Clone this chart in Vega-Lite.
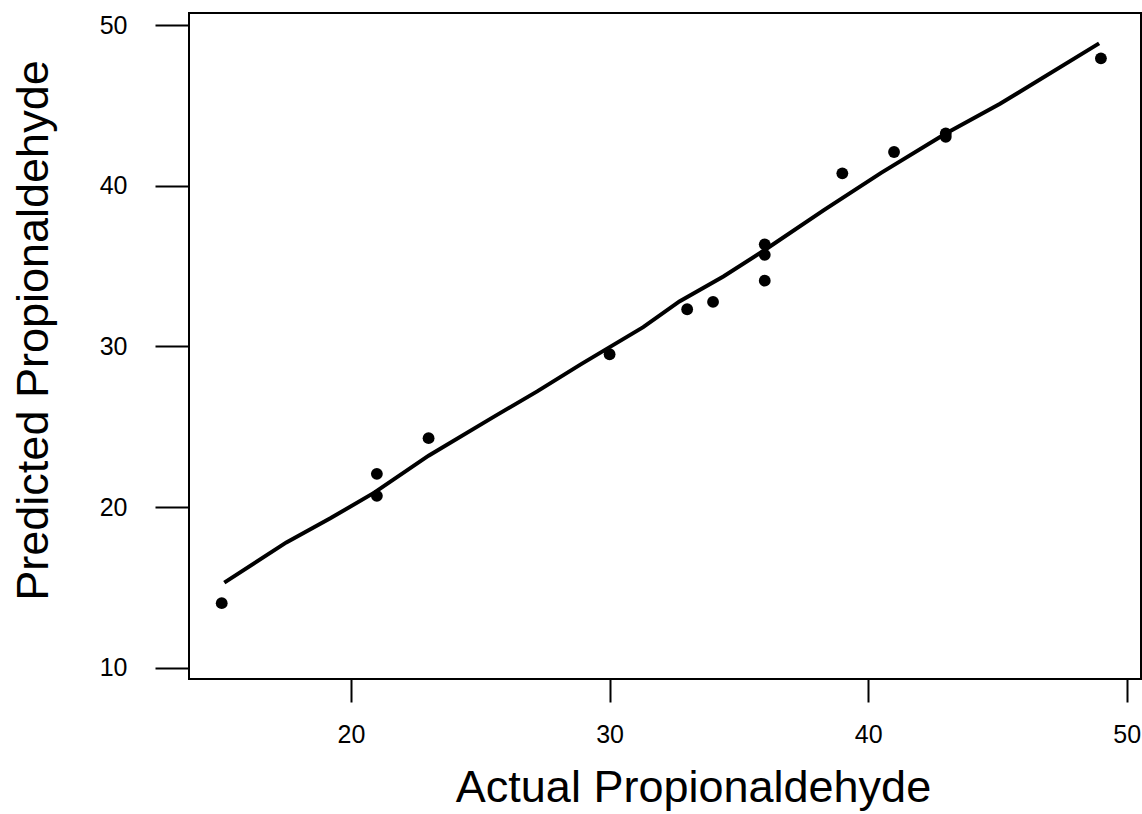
{
  "$schema": "https://vega.github.io/schema/vega-lite/v6.json",
  "width": 952,
  "height": 666,
  "autosize": {"type": "none"},
  "padding": {"left": 189, "top": 13, "right": 1, "bottom": 135},
  "background": "white",
  "config": {
    "view": {"stroke": "black", "strokeWidth": 2},
    "font": "Liberation Sans",
    "axis": {
      "grid": false,
      "domain": false,
      "tickColor": "black",
      "tickWidth": 2,
      "labelColor": "black",
      "titleColor": "black",
      "labelFont": "Liberation Sans",
      "titleFont": "Liberation Sans",
      "labelFontSize": 25,
      "titleFontSize": 45,
      "titleFontWeight": "normal"
    }
  },
  "datasets": {
    "points": [
      {"actual": 15, "predicted": 14.02},
      {"actual": 21, "predicted": 22.07},
      {"actual": 21, "predicted": 20.70},
      {"actual": 23, "predicted": 24.29},
      {"actual": 30, "predicted": 29.51},
      {"actual": 33, "predicted": 32.31},
      {"actual": 34, "predicted": 32.77},
      {"actual": 36, "predicted": 36.35},
      {"actual": 36, "predicted": 35.70},
      {"actual": 36, "predicted": 34.09},
      {"actual": 39, "predicted": 40.77},
      {"actual": 41, "predicted": 42.10},
      {"actual": 43, "predicted": 43.25},
      {"actual": 43, "predicted": 43.05},
      {"actual": 49, "predicted": 47.93}
    ],
    "fit": [
      {"actual": 15.1, "predicted": 15.3},
      {"actual": 17.5, "predicted": 17.8},
      {"actual": 19.2, "predicted": 19.3},
      {"actual": 20.9, "predicted": 20.9},
      {"actual": 23.0, "predicted": 23.2},
      {"actual": 25.5, "predicted": 25.6},
      {"actual": 27.2, "predicted": 27.2},
      {"actual": 28.9, "predicted": 28.9},
      {"actual": 31.3, "predicted": 31.2},
      {"actual": 32.7, "predicted": 32.8},
      {"actual": 34.4, "predicted": 34.35},
      {"actual": 36.0, "predicted": 36.0},
      {"actual": 38.3, "predicted": 38.5},
      {"actual": 40.5, "predicted": 40.8},
      {"actual": 43.0, "predicted": 43.25},
      {"actual": 45.1, "predicted": 45.1},
      {"actual": 48.93, "predicted": 48.86}
    ]
  },
  "layer": [
    {
      "data": {"name": "fit"},
      "mark": {"type": "line", "color": "black", "strokeWidth": 4, "clip": true},
      "encoding": {
        "x": {
          "field": "actual", "type": "quantitative",
          "scale": {"domain": [13.735, 50.55], "nice": false, "zero": false},
          "axis": {
            "title": "Actual Propionaldehyde",
            "values": [20, 30, 40, 50],
            "tickSize": 23,
            "labelPadding": 20,
            "titleX": 504,
            "titleY": 122,
            "titleAlign": "center",
            "titleBaseline": "alphabetic",
            "titleAnchor": null
          }
        },
        "y": {
          "field": "predicted", "type": "quantitative",
          "scale": {"domain": [9.3, 50.75], "nice": false, "zero": false},
          "axis": {
            "title": "Predicted Propionaldehyde",
            "values": [10, 20, 30, 40, 50],
            "tickSize": 34,
            "labelPadding": 28,
            "titleX": -142,
            "titleY": 317,
            "titleAngle": -90,
            "titleAlign": "center",
            "titleBaseline": "alphabetic"
          }
        }
      }
    },
    {
      "data": {"name": "points"},
      "mark": {"type": "circle", "color": "black", "opacity": 1, "size": 140},
      "encoding": {
        "x": {"field": "actual", "type": "quantitative"},
        "y": {"field": "predicted", "type": "quantitative"}
      }
    }
  ]
}
